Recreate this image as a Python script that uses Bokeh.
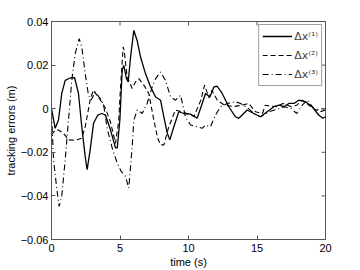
from bokeh.plotting import figure
from bokeh.models import FixedTicker, Legend, LegendItem, Range1d
from bokeh.embed import file_html
from bokeh.resources import INLINE

# ---- data ----
t1 = [0, 0.27, 0.51, 0.75, 1.0, 1.36, 1.68, 1.97, 2.21, 2.46, 2.6, 2.82, 3.07, 3.38, 3.67, 3.94,
      4.31, 4.67, 4.8, 4.99, 5.16, 5.28, 5.47, 5.6, 5.77, 6.01, 6.25, 6.5, 6.86, 7.23, 7.6, 7.96,
      8.2, 8.45, 8.64, 8.93, 9.29, 9.66, 10.15, 10.63, 11.0, 11.24, 11.56, 11.85, 12.1, 12.46,
      12.94, 13.43, 13.67, 13.92, 14.28, 14.77, 15.26, 15.74, 16.23, 16.6, 16.96, 17.32, 17.7,
      18.05, 18.54, 19.03, 19.5, 19.8, 20]
dx1 = [0.0, -0.009, -0.0052, 0.007, 0.013, 0.0141, 0.0143, 0.007, -0.0083, -0.022, -0.028, -0.019,
       -0.0067, -0.0029, -0.0022, -0.0029, -0.0098, -0.018, -0.018, -0.0052, 0.0176, 0.0199, 0.0138,
       0.0123, 0.0237, 0.0359, 0.0313, 0.0237, 0.0161, 0.010, 0.0054, 0.0039, -0.0037, -0.0113,
       -0.0143, -0.0083, -0.0014, -0.0022, -0.0025, -0.0044, 0.0024, 0.007, 0.0054, 0.010, 0.0103,
       0.007, 0.0009, -0.0037, -0.0044, -0.0029, -0.0006, -0.0022, -0.0037, -0.0014, 0.0009, 0.0016,
       0.0009, 0.0024, 0.0024, 0.0039, 0.0032, 0.0009, -0.0029, -0.0044, -0.0037]

t2 = [0, 0.27, 0.5, 0.88, 1.24, 1.73, 2.21, 2.46, 2.82, 3.05, 3.31, 3.58, 3.94, 4.3, 4.67, 4.9,
      5.04, 5.23, 5.3, 5.52, 5.89, 6.13, 6.37, 6.74, 7.1, 7.47, 7.75, 7.96, 8.2, 8.56, 9.05, 9.5,
      10.0, 10.4, 10.9, 11.17, 11.5, 11.7, 12.1, 12.6, 13.3, 13.92, 14.4, 14.89, 15.4, 15.6, 16.0,
      16.4, 16.9, 17.5, 17.9, 18.3, 18.8, 19.3, 19.8, 20]
dx2 = [-0.012, -0.0098, -0.0098, -0.0113, -0.0143, -0.0145, -0.0135, -0.0083, 0.0039, 0.0085,
       0.0062, 0.0039, 0.0001, -0.006, -0.0159, -0.006, 0.010, 0.0283, 0.027, 0.0146, 0.0093,
       0.0123, 0.0138, 0.0108, 0.007, -0.0052, -0.0135, -0.0166, -0.0166, -0.0083, -0.0006,
       -0.0014, -0.0025, -0.0035, 0.0039, 0.0108, 0.005, 0.0085, 0.0039, 0.0017, 0.001, 0.0016,
       0.0024, -0.0014, -0.0022, 0.0016, 0.0012, 0.0009, 0.0024, 0.0009, 0.0016, 0.0039, 0.0016,
       -0.0006, 0.0, 0.0]

t3 = [0, 0.15, 0.39, 0.56, 0.75, 1.0, 1.24, 1.48, 1.73, 2.02, 2.21, 2.46, 2.7, 2.9, 3.19, 3.55,
      3.8, 4.06, 4.43, 4.8, 5.09, 5.4, 5.64, 5.89, 6.01, 6.26, 6.62, 6.98, 7.35, 7.6, 7.96, 8.32,
      8.69, 9.05, 9.42, 9.78, 10.15, 10.63, 11.0, 11.24, 11.6, 11.97, 12.34, 12.82, 13.43, 13.8,
      14.3, 14.89, 15.26, 15.87, 16.6, 17.0, 17.5, 17.9, 18.3, 18.66, 19.15, 19.6, 20]
dx3 = [-0.002, -0.0235, -0.037, -0.0448, -0.040, -0.0235, -0.0052, 0.013, 0.0253, 0.0321, 0.0283,
       0.0161, 0.0062, 0.004, 0.0077, 0.0047, 0.002, -0.009, -0.018, -0.025, -0.0288, -0.031,
       -0.0364, -0.0174, -0.0052, -0.0006, -0.0022, 0.0024, 0.010, 0.0138, 0.0168, 0.013, 0.0054,
       0.0039, 0.0062, -0.0037, -0.0075, -0.0083, -0.009, -0.0075, -0.0083, -0.0029, 0.0009,
       0.0024, 0.0032, 0.0024, 0.0005, -0.0029, -0.0037, -0.0014, 0.0, 0.0009, 0.0, -0.0022,
       0.0016, 0.0039, 0.0, -0.0014, -0.0006]

labels = ["\u0394x\u207d\u00b9\u207e", "\u0394x\u207d\u00b2\u207e", "\u0394x\u207d\u00b3\u207e"]
x_ticks = [0, 5, 10, 15, 20]
y_ticks = [-0.06, -0.04, -0.02, 0, 0.02, 0.04]
y_tick_labels = ["\u22120.06", "\u22120.04", "\u22120.02", "0", "0.02", "0.04"]

FONT = "Liberation Sans"
AXC = "#555555"
X0, X1, Y0, Y1 = 0, 20, -0.06, 0.04

p = figure(width=360, height=270, output_backend="svg", toolbar_location=None,
           x_range=Range1d(X0, X1), y_range=Range1d(Y0, Y1),
           min_border_left=51, min_border_right=35, min_border_top=21, min_border_bottom=30)
p.grid.visible = False
p.outline_line_color = AXC
p.outline_line_width = 1
p.background_fill_color = "white"
p.border_fill_color = "white"

r1 = p.line(t1, dx1, line_color="black", line_width=1.3)
r2 = p.line(t2, dx2, line_color="black", line_width=1.1, line_dash="5 3")
r3 = p.line(t3, dx3, line_color="black", line_width=1.1, line_dash="6 3 1 3")

# inward ticks on the top and right edges of the box (MATLAB style)
tick_dy = (Y1 - Y0) * 4 / 219
tick_dx = (X1 - X0) * 4 / 274
p.segment(x0=x_ticks, y0=[Y1] * len(x_ticks), x1=x_ticks, y1=[Y1 - tick_dy] * len(x_ticks),
          line_color=AXC, line_width=1)
p.segment(x0=[X1] * len(y_ticks), y0=y_ticks, x1=[X1 - tick_dx] * len(y_ticks), y1=y_ticks,
          line_color=AXC, line_width=1)

for ax in (p.xaxis[0], p.yaxis[0]):
    ax.major_tick_in = 4
    ax.major_tick_out = 0
    ax.minor_tick_in = 0
    ax.minor_tick_out = 0
    ax.axis_line_color = AXC
    ax.major_tick_line_color = AXC
    ax.major_label_text_font = FONT
    ax.major_label_text_font_size = "11px"
    ax.major_label_text_color = "black"
    ax.axis_label_text_font = FONT
    ax.axis_label_text_font_size = "11px"
    ax.axis_label_text_font_style = "normal"
    ax.axis_label_text_color = "black"

xa = p.xaxis[0]
xa.ticker = FixedTicker(ticks=x_ticks)
xa.axis_label = "time (s)"
xa.major_label_standoff = 4
xa.axis_label_standoff = 1

ya = p.yaxis[0]
ya.ticker = FixedTicker(ticks=y_ticks)
ya.axis_label = "tracking errors (m)"
ya.major_label_overrides = {t: s for t, s in zip(y_ticks, y_tick_labels)}
ya.major_label_standoff = 3
ya.axis_label_standoff = 1

legend = Legend(items=[LegendItem(label=labels[0], renderers=[r1]),
                       LegendItem(label=labels[1], renderers=[r2]),
                       LegendItem(label=labels[2], renderers=[r3])],
                location="top_right", orientation="vertical")
legend.label_text_font = "DejaVu Sans"
legend.label_text_font_size = "11px"
legend.glyph_width = 30
legend.glyph_height = 16
legend.label_height = 16
legend.label_standoff = 2
legend.spacing = 3
legend.padding = 3
legend.margin = 3
legend.border_line_color = "#444444"
legend.border_line_width = 1
legend.background_fill_alpha = 1
p.add_layout(legend)

open("out.html", "w").write(file_html(p, INLINE))
